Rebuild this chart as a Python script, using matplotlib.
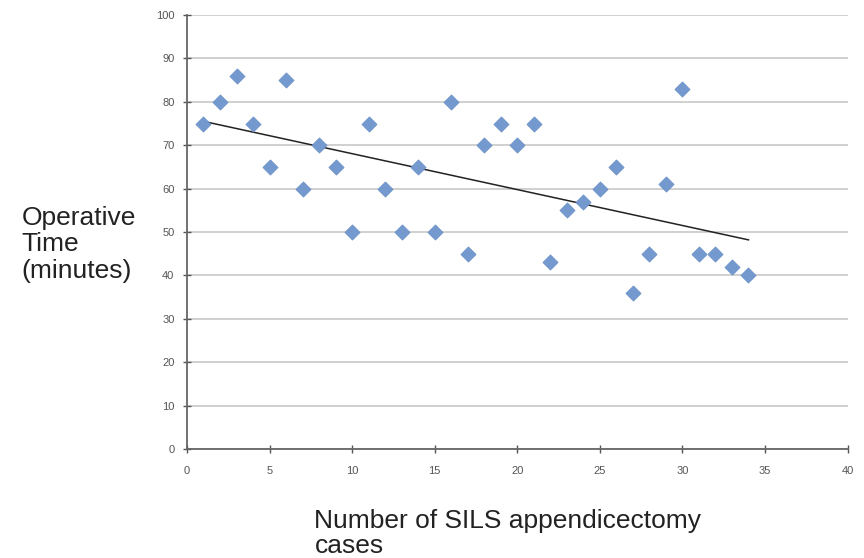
import numpy as np
import matplotlib.pyplot as plt

# SILS appendicectomy case number vs operative time
case_no = [1, 2, 3, 4, 5, 6, 7, 8, 9, 10, 11, 12, 13, 14, 15, 16, 17,
           18, 19, 20, 21, 22, 23, 24, 25, 26, 27, 28, 29, 30, 31, 32, 33, 34]
op_time = [75, 80, 86, 75, 65, 85, 60, 70, 65, 50, 75, 60, 50, 65, 50, 80, 45,
           70, 75, 70, 75, 43, 55, 57, 60, 65, 36, 45, 61, 83, 45, 45, 42, 40]

x_ticks = [0, 5, 10, 15, 20, 25, 30, 35, 40]
y_ticks = [0, 10, 20, 30, 40, 50, 60, 70, 80, 90, 100]

plt.rcParams['font.family'] = ['Liberation Sans', 'DejaVu Sans']

fig = plt.figure(figsize=(8.64, 5.58), dpi=100)
ax = fig.add_axes([0.2164, 0.1953, 0.7646, 0.7777])

# linear trendline
slope, intercept = np.polyfit(case_no, op_time, 1)
xs = np.array([case_no[0], case_no[-1]])
ax.plot(xs, slope * xs + intercept, color='#222222', lw=1.1, zorder=3)

ax.scatter(case_no, op_time, marker='D', s=60, color='#7399cf',
           edgecolors='#6a8fc4', linewidths=0.5, zorder=4)

ax.set_xlim(0, 40)
ax.set_ylim(0, 100)
ax.set_xticks(x_ticks)
ax.set_yticks(y_ticks)
ax.tick_params(labelsize=8, colors='#555555', direction='inout', length=6, width=1)
ax.tick_params(axis='x', pad=9)
ax.tick_params(axis='y', pad=6)
ax.yaxis.grid(True, color='#c8c8c8', lw=1.2)
ax.set_axisbelow(True)
for s in ['top', 'right']:
    ax.spines[s].set_visible(False)
for s in ['left', 'bottom']:
    ax.spines[s].set_color('#666666')
    ax.spines[s].set_linewidth(1.3)

fig.text(0.025, 0.562, 'Operative\nTime\n(minutes)', fontsize=19,
         ha='left', va='center', linespacing=1.15, color='#222222')
fig.text(0.364, 0.044, 'Number of SILS appendicectomy\ncases', fontsize=19,
         ha='left', va='center', linespacing=1.05, color='#222222')

fig.savefig('out.png', dpi=100)
